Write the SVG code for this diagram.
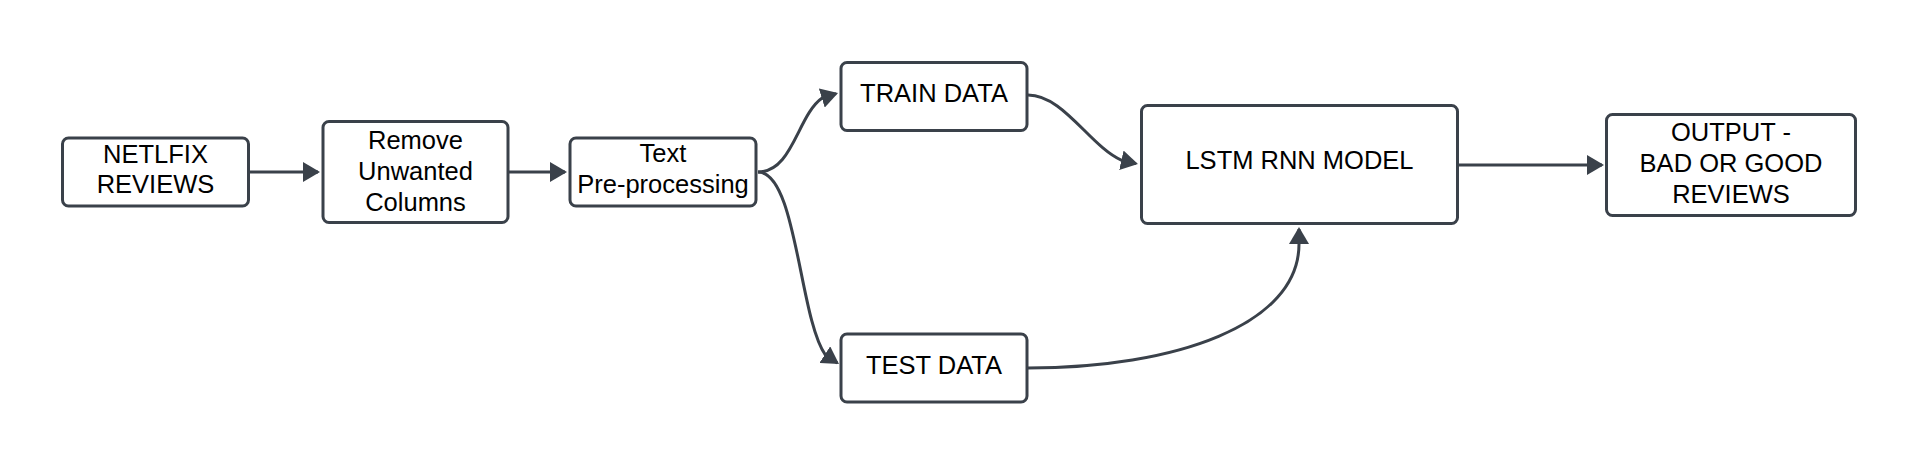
<svg xmlns="http://www.w3.org/2000/svg" width="1919" height="470" viewBox="0 0 1919 470">
  <style>
    .box { fill: #ffffff; stroke: #3a414a; stroke-width: 3; }
    .lbl { font-family: "Liberation Sans", Arial, sans-serif; font-size: 25.5px; fill: #000000; text-anchor: middle; }
    .conn { fill: none; stroke: #3a414a; stroke-width: 3; marker-end: url(#arrow); }
  </style>
  <defs>
    <marker id="arrow" markerUnits="userSpaceOnUse" viewBox="0 0 17 20" markerWidth="17" markerHeight="20" refX="15" refY="10" orient="auto">
      <path d="M0,0 L17,10 L0,20 Z" fill="#3a414a"/>
    </marker>
  </defs>
  <rect width="1919" height="470" fill="#ffffff"/>

  <g id="connectors">
    <path class="conn" d="M249,172 H318"/>
    <path class="conn" d="M509,172 H565"/>
    <path class="conn" d="M758,172 C793,172 797.4,114.9 822.5,97.8 L836.1,93.6"/>
    <path class="conn" d="M758,172 C796.8,172 799.1,318 825.5,355.2 L837.3,362.9"/>
    <path class="conn" d="M1028,95 C1063.4,95 1090,146.4 1121.8,160.4 L1136,163.6"/>
    <path class="conn" d="M1028,368 C1175,368 1299,325 1299,244 L1299,229"/>
    <path class="conn" d="M1459,165 H1602"/>
  </g>

  <g id="netflix-reviews">
    <rect class="box" x="62.5" y="138" width="186" height="68" rx="6"/>
    <text class="lbl" x="155.5" y="163">NETLFIX</text>
    <text class="lbl" x="155.5" y="193">REVIEWS</text>
  </g>

  <g id="remove-columns">
    <rect class="box" x="323" y="121.5" width="185" height="101" rx="6"/>
    <text class="lbl" x="415.5" y="149">Remove</text>
    <text class="lbl" x="415.5" y="180">Unwanted</text>
    <text class="lbl" x="415.5" y="211">Columns</text>
  </g>

  <g id="text-preprocessing">
    <rect class="box" x="570" y="138" width="186" height="68" rx="6"/>
    <text class="lbl" x="663" y="162">Text</text>
    <text class="lbl" x="663" y="193">Pre-processing</text>
  </g>

  <g id="train-data">
    <rect class="box" x="841" y="62.5" width="186" height="68" rx="6"/>
    <text class="lbl" x="934" y="102">TRAIN DATA</text>
  </g>

  <g id="test-data">
    <rect class="box" x="841" y="334" width="186" height="68" rx="6"/>
    <text class="lbl" x="934" y="374">TEST DATA</text>
  </g>

  <g id="lstm-model">
    <rect class="box" x="1141.5" y="105.5" width="316" height="118" rx="6"/>
    <text class="lbl" x="1299.5" y="169">LSTM RNN MODEL</text>
  </g>

  <g id="output">
    <rect class="box" x="1606.5" y="114.5" width="249" height="101" rx="6"/>
    <text class="lbl" x="1731" y="141">OUTPUT -</text>
    <text class="lbl" x="1731" y="172">BAD OR GOOD</text>
    <text class="lbl" x="1731" y="203">REVIEWS</text>
  </g>
</svg>
